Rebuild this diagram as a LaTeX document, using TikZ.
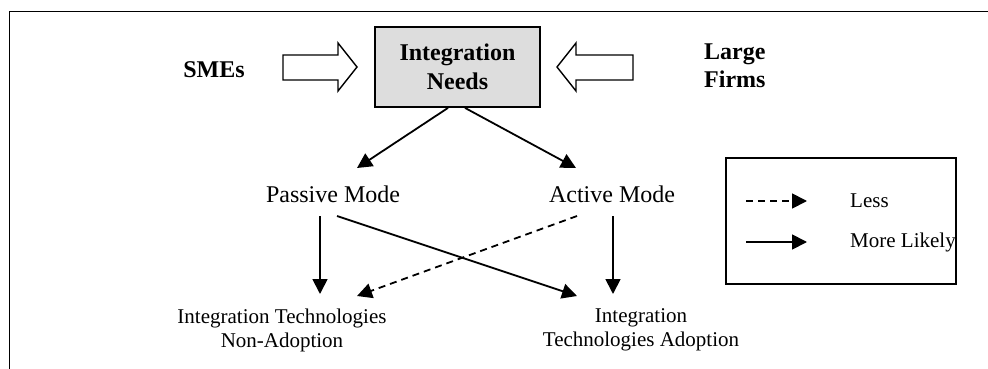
\documentclass[tikz,border=0pt]{standalone}
\usepackage{fontspec}
\setmainfont{Liberation Serif}
\usetikzlibrary{arrows.meta,calc}
\definecolor{boxgray}{RGB}{221,221,221}
\begin{document}
\begin{tikzpicture}[x=1pt,y=-1pt,
  lw/.style={line width=1.8pt},
  arr/.style={lw,-{Triangle[length=15pt,width=15pt]}},
  dasharr/.style={arr,dash pattern=on 7pt off 5pt},
  boldtext/.style={font=\fontsize{24}{28.5}\selectfont\bfseries,inner sep=0pt},
  mode/.style={font=\fontsize{24}{28}\selectfont,inner sep=0pt},
  outcome/.style={font=\fontsize{21}{24}\selectfont,align=center,inner sep=0pt},
  legtext/.style={font=\fontsize{21}{24}\selectfont,anchor=west,inner sep=0pt},
  blockarrow/.style={line width=1.4pt,fill=white,line join=miter}]
\useasboundingbox (0,0) rectangle (988,369);
% outer frame (top and left edges)
\draw[lw] (9.5,369) -- (9.5,11.5) -- (988,11.5);

% central box
\node[draw,lw,fill=boxgray,minimum width=165pt,minimum height=80pt,boldtext,align=center] (needs) at (457.5,67) {Integration\\Needs};

% block arrows
\draw[blockarrow] (283,55) -- (338,55) -- (338,43) -- (357,67) -- (338,91) -- (338,80) -- (283,80) -- cycle;
\draw[blockarrow] (633,55) -- (576,55) -- (576,43) -- (557,67) -- (576,91) -- (576,80) -- (633,80) -- cycle;

\node[boldtext] (smes) at (214,70) {SMEs};
\node[boldtext,align=left,anchor=west] (large) at (704,66) {Large\\Firms};

% modes
\node[mode] (pass) at (333,194) {Passive Mode};
\node[mode] (act) at (612,194) {Active Mode};

% outcomes
\node[outcome] (nonad) at (282,330) {Integration Technologies\\Non-Adoption};
\node[outcome] (adop) at (641,330) {Integration\\Technologies Adoption};

% connectors
\draw[arr] ($(needs.south)+(-9.5,0)$) -- ($(pass.center)+(24,-26)$);
\draw[arr] ($(needs.south)+(7.5,0)$) -- ($(act.center)+(-36,-26)$);
\draw[arr] ($(pass.center)+(-13,22)$) -- ($(nonad.center)+(38,-36)$);
\draw[arr] ($(pass.center)+(4,22)$) -- ($(adop.center)+(-64,-34)$);
\draw[dasharr] ($(act.center)+(-35,22)$) -- ($(nonad.center)+(75,-34)$);
\draw[arr] ($(act.center)+(1,22)$) -- ($(adop.center)+(-28,-36)$);

% legend
\node[draw,lw,minimum width=230pt,minimum height=126pt,inner sep=0pt] (legend) at (841,221) {};
\coordinate (lessA) at (746,201);
\coordinate (lessB) at (807,201);
\coordinate (moreA) at (746,242);
\coordinate (moreB) at (807,242);
\draw[dasharr] (lessA) -- (lessB);
\draw[arr] (moreA) -- (moreB);
\node[legtext] (less) at (850,201) {Less};
\node[legtext] (more) at (850,242) {More Likely};
\end{tikzpicture}
\end{document}
